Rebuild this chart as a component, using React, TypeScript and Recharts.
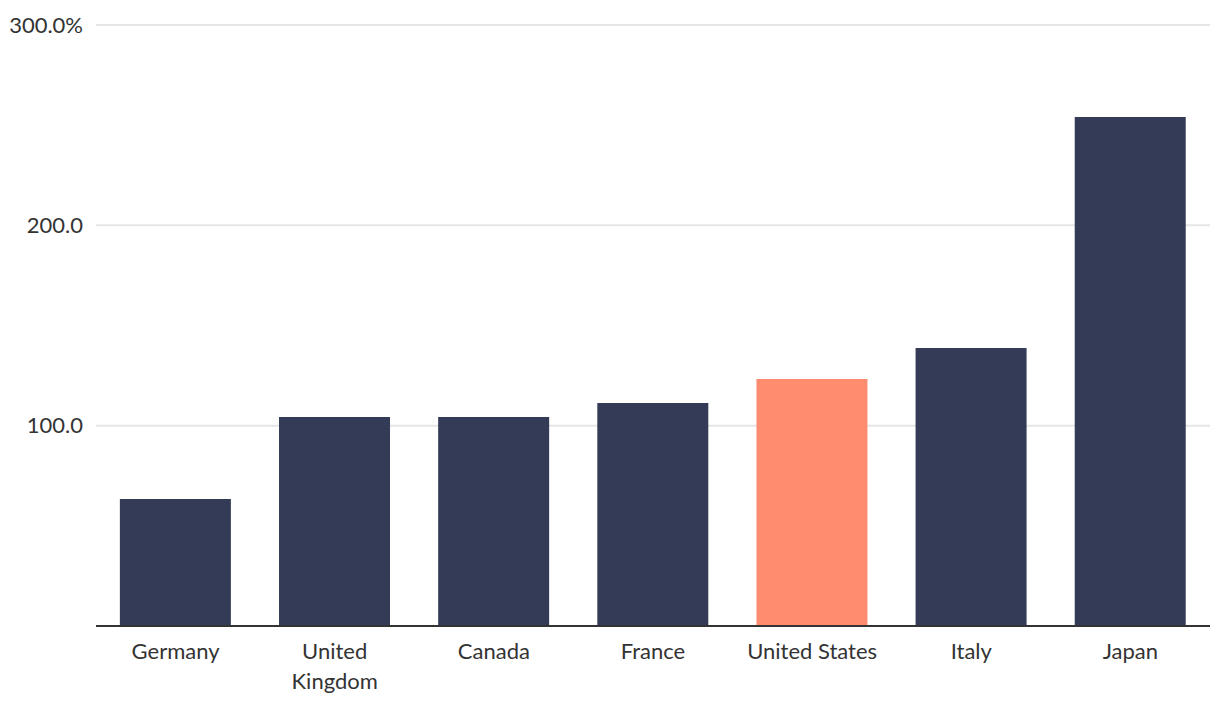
import { BarChart, Bar, XAxis, YAxis, CartesianGrid, Cell } from "recharts";

const countries = ["Germany", "United Kingdom", "Canada", "France", "United States", "Italy", "Japan"];
const tickLabels = ["Germany", "United\nKingdom", "Canada", "France", "United States", "Italy", "Japan"];
const debtRatio = [63.4, 104.3, 104.3, 111.3, 123.3, 138.8, 254.1];
const highlight = "United States";
const yTicks = [100, 200, 300];

const NAVY = "#343b56";
const SALMON = "#ff8c6e";
const FONT = "'Source Sans Pro', Lato, 'Noto Sans', sans-serif";

const data = countries.map((c, i) => ({ country: c, label: tickLabels[i], value: debtRatio[i] }));

function CountryTick(props: any) {
  const { x, y, payload } = props;
  const lines = tickLabels[countries.indexOf(payload.value)].split("\n");
  return (
    <text x={x} y={y} textAnchor="middle" fill="#333" fontSize={22} fontFamily={FONT}>
      {lines.map((l, i) => (
        <tspan key={i} x={x} dy={i === 0 ? 19 : 30}>
          {l}
        </tspan>
      ))}
    </text>
  );
}

export default function App() {
  return (
    <div style={{ position: "absolute", left: 0, top: 0, background: "#fff" }}>
      <BarChart
        width={1220}
        height={712}
        data={data}
        margin={{ top: 25, right: 10, left: 0, bottom: 0 }}
        barCategoryGap="15%"
      >
        <CartesianGrid vertical={false} stroke="#e6e6e6" strokeWidth={2} />
        <XAxis
          dataKey="country"
          height={86}
          tickLine={false}
          axisLine={{ stroke: "#333", strokeWidth: 2 }}
          tick={<CountryTick />}
          interval={0}
          tickMargin={8}
        />
        <YAxis
          width={96}
          domain={[0, 300]}
          ticks={yTicks}
          axisLine={false}
          tickLine={false}
          tickMargin={7}
          tick={{ fill: "#333", fontSize: 22, fontFamily: FONT }}
          tickFormatter={(v: number) => (v === 300 ? "300.0%" : v.toFixed(1))}
        />
        <Bar dataKey="value" isAnimationActive={false}>
          {data.map((d) => (
            <Cell key={d.country} fill={d.country === highlight ? SALMON : NAVY} />
          ))}
        </Bar>
      </BarChart>
    </div>
  );
}
